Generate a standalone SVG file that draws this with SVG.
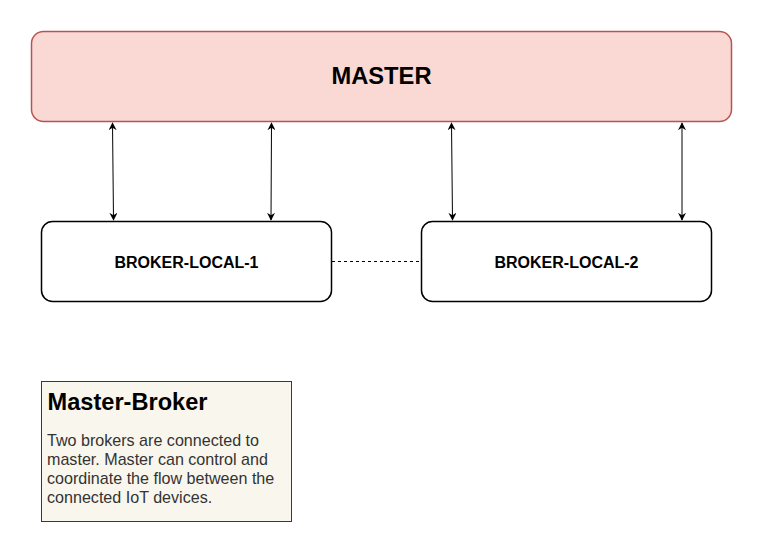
<svg xmlns="http://www.w3.org/2000/svg" width="762" height="552" viewBox="0 0 762 552">
<style>
.lbl{font-family:"Liberation Sans",Arial,sans-serif;font-weight:bold;fill:#000;text-anchor:middle}
.conn{stroke:#000;stroke-width:1;fill:none}
.body{font-family:"Liberation Sans",Arial,sans-serif;font-size:16.1px;fill:#333}
</style>
<defs>
<marker id="ah" viewBox="0 0 10 10" refX="9" refY="5" markerWidth="8" markerHeight="8" markerUnits="userSpaceOnUse" orient="auto-start-reverse">
<path d="M0,0 L10,5 L0,10 L3,5 Z" fill="#000"/>
</marker>
</defs>
<rect width="762" height="552" fill="#fff"/>
<g id="master">
<rect x="31.5" y="31.5" width="700" height="90" rx="12" fill="#fad9d5" stroke="#b85450" stroke-width="1.5"/>
<text class="lbl" x="381.5" y="84" font-size="23.7">MASTER</text>
</g>
<g id="broker1">
<rect x="41.5" y="221.5" width="290" height="80" rx="11" fill="#fff" stroke="#000" stroke-width="1.5"/>
<text class="lbl" x="186.5" y="267.5" font-size="16">BROKER-LOCAL-1</text>
</g>
<g id="broker2">
<rect x="421.5" y="221.5" width="290" height="80" rx="11" fill="#fff" stroke="#000" stroke-width="1.5"/>
<text class="lbl" x="566.5" y="267.5" font-size="16">BROKER-LOCAL-2</text>
</g>
<g id="note">
<rect x="41.5" y="381.5" width="250" height="140" fill="#f9f7ed" stroke="#36393d" stroke-width="1"/>
<text x="47.5" y="410" font-family="'Liberation Sans',Arial,sans-serif" font-weight="bold" font-size="23.6" fill="#000">Master-Broker</text>
<text class="body" x="47" y="446">Two brokers are connected to</text>
<text class="body" x="47" y="465">master. Master can control and</text>
<text class="body" x="47" y="484">coordinate the flow between the</text>
<text class="body" x="47" y="503">connected IoT devices.</text>
</g>
<g id="connectors">
<line class="conn" x1="112.5" y1="123" x2="113.5" y2="220" marker-start="url(#ah)" marker-end="url(#ah)"/>
<line class="conn" x1="271.5" y1="123" x2="271" y2="220" marker-start="url(#ah)" marker-end="url(#ah)"/>
<line class="conn" x1="451.5" y1="123" x2="452.5" y2="220" marker-start="url(#ah)" marker-end="url(#ah)"/>
<line class="conn" x1="682" y1="123" x2="682" y2="220" marker-start="url(#ah)" marker-end="url(#ah)"/>
<line class="conn" x1="332" y1="261.5" x2="421" y2="261.5" stroke-dasharray="3,3"/>
</g>
</svg>
